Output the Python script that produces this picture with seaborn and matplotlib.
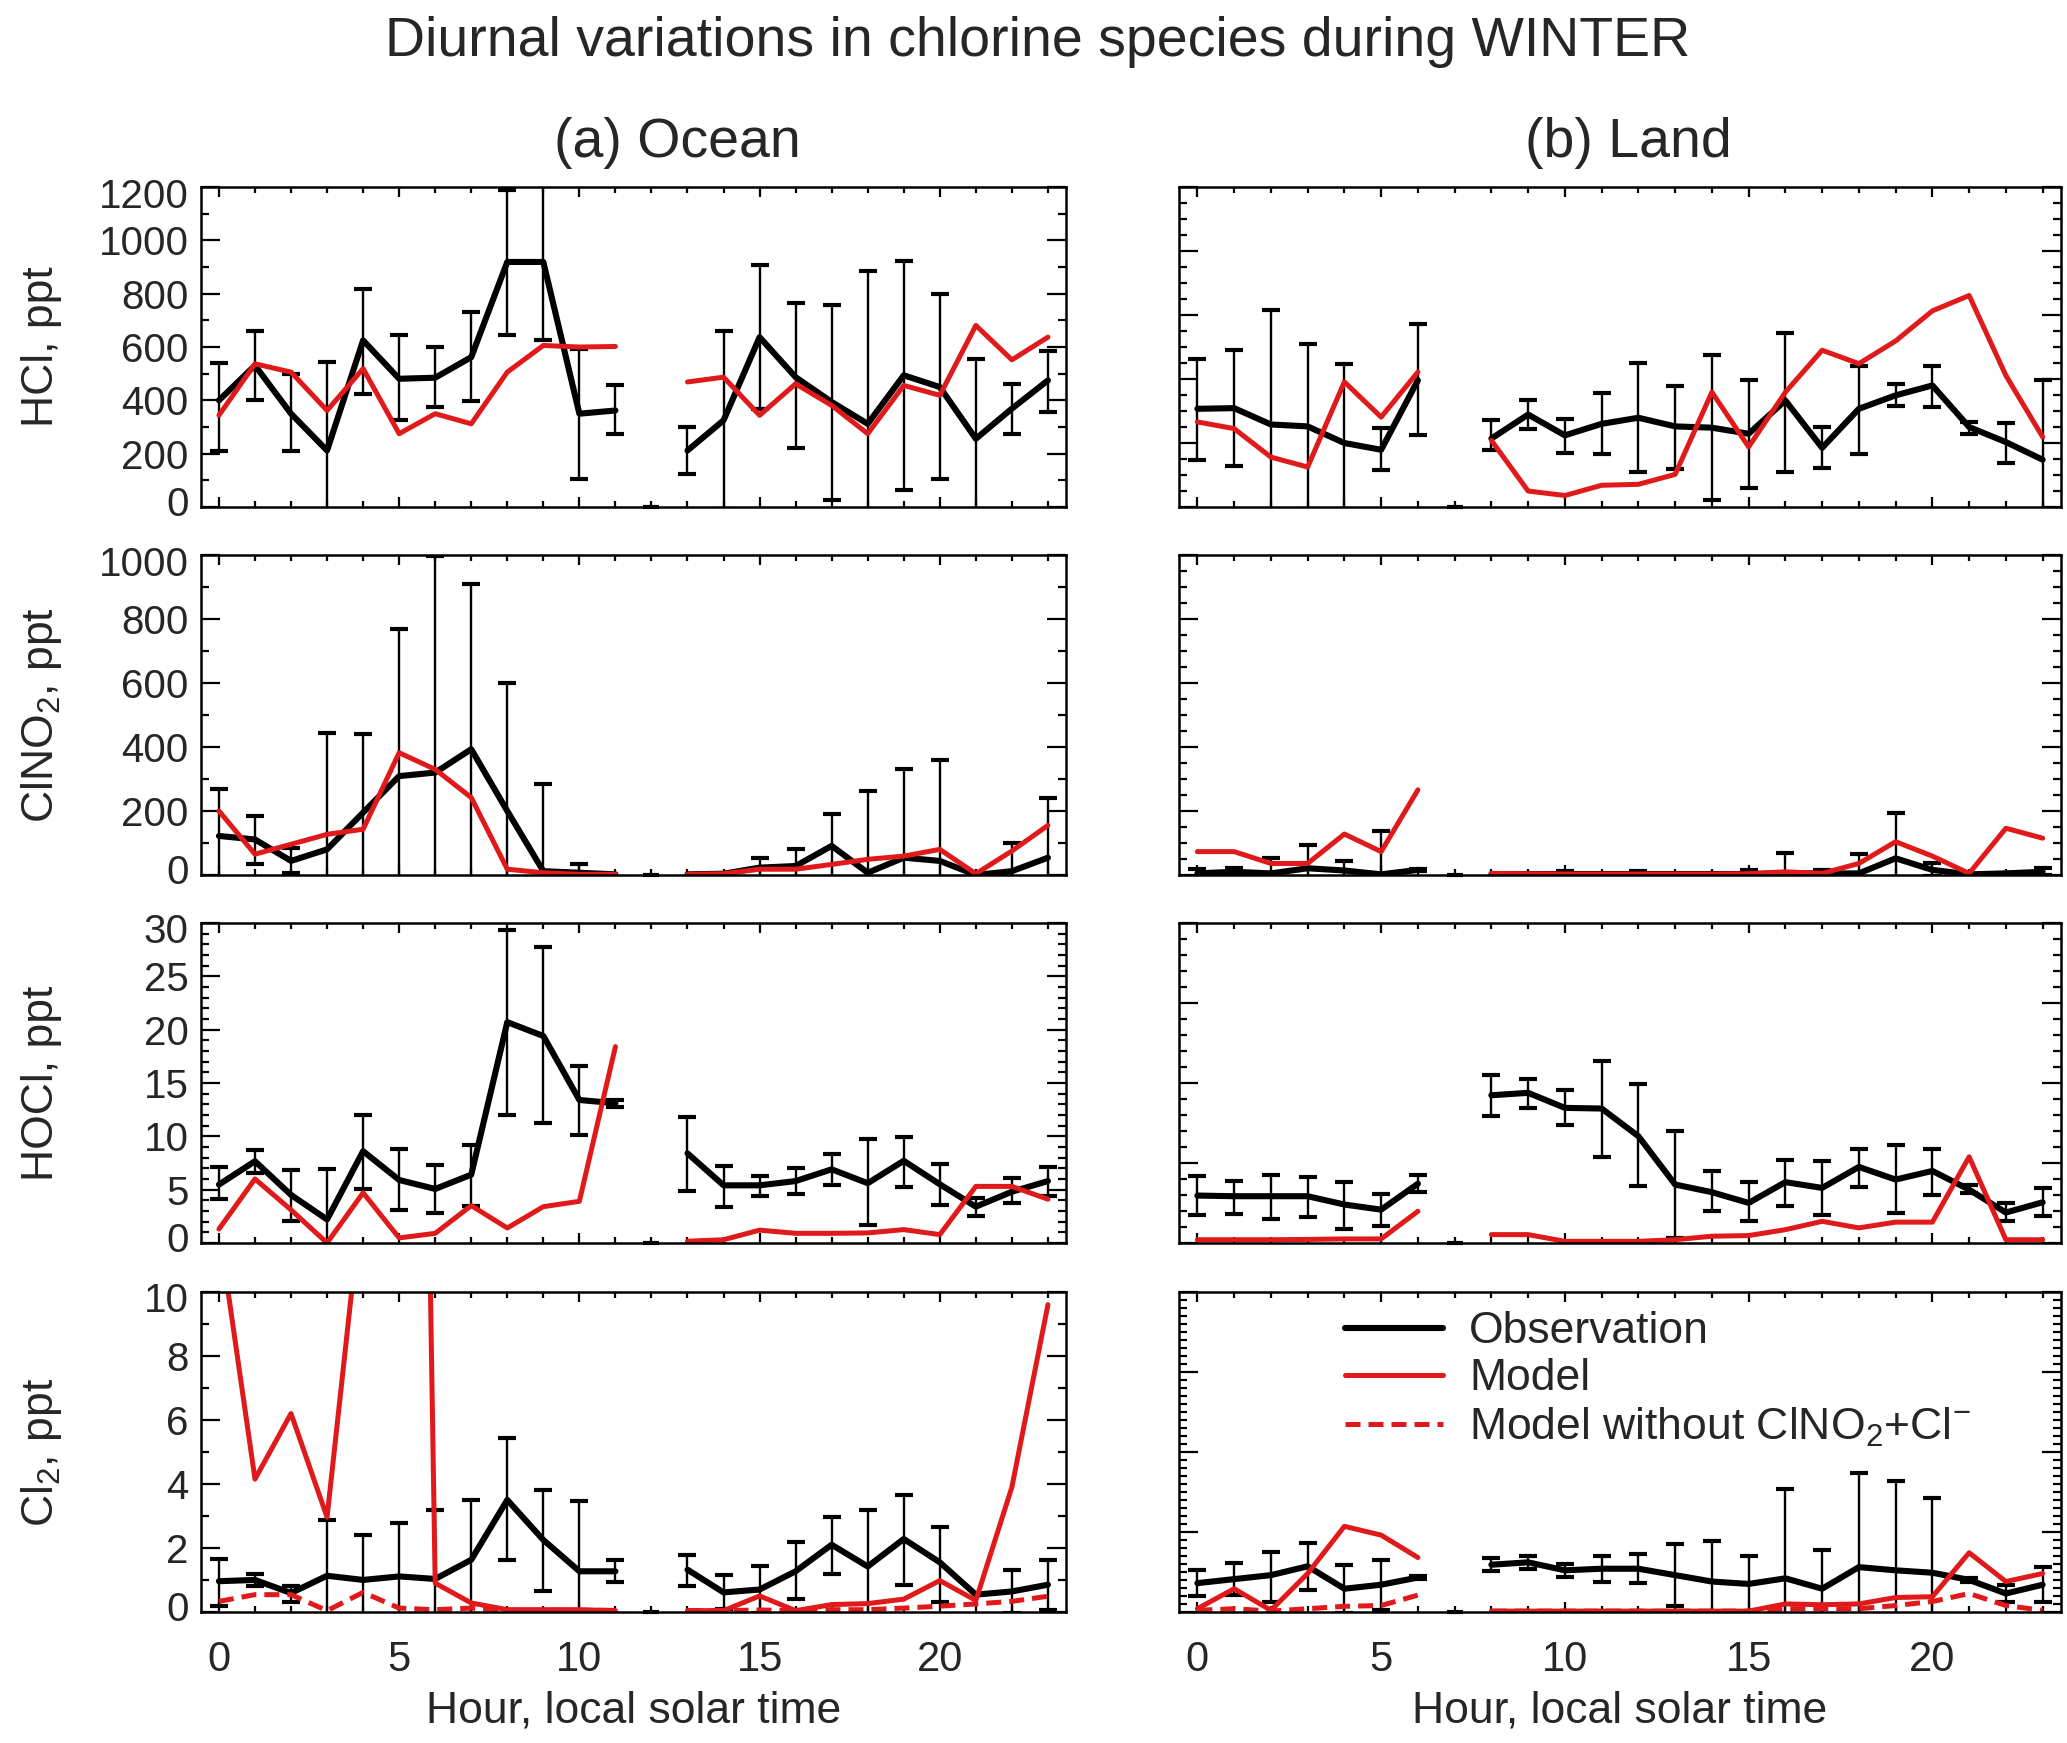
import numpy as np
import pandas as pd
import matplotlib
matplotlib.use("Agg")
import matplotlib.pyplot as plt
import matplotlib.transforms as mtransforms
from matplotlib.ticker import MultipleLocator
from matplotlib.lines import Line2D
import seaborn as sns

# ---- data (hour 0..23, nan = no data) ----
nan = np.nan
hours = np.arange(24)

# HCl, ocean
hcl_ocean_obs = [400, 531, 350, 212, 625, 481, 485, 562, 919, 919, 350, 362, nan,
                 212, 325, 637, 487, 394, 312, 494, 450, 256, 369, 475]
hcl_ocean_lo = [212, 400, 212, -120, 425, 325, 375, 396, 646, 628, 106, 275, nan,
                125, -9, 368, 221, 25, -261, 65, 106, -44, 275, 356]
hcl_ocean_hi = [541, 659, 497, 544, 819, 644, 600, 731, 1187, 1210, 594, 456, nan,
                300, 659, 906, 766, 756, 885, 922, 800, 556, 462, 584]
hcl_ocean_model = [344, 537, 506, 362, 519, 275, 350, 312, 506, 606, 600, 602, nan,
                   469, 487, 344, 462, 381, 275, 456, 419, 681, 552, 637]

# HCl, land
hcl_land_obs = [307, 309, 258, 252, 200, 179, 396, nan, 214, 289, 224, 260,
                279, 252, 248, 229, 333, 185, 307, 349, 380, 250, 203, 148]
hcl_land_lo = [146, 127, -101, -6, -48, 115, 226, nan, 179, 245, 170, 165,
               109, 120, 21, 60, 109, 122, 167, 316, 313, 229, 139, -100]
hcl_land_hi = [464, 490, 617, 510, 448, 247, 571, nan, 273, 333, 276, 357,
               450, 377, 474, 398, 545, 250, 440, 385, 440, 266, 263, 396]
hcl_land_model = [266, 245, 156, 125, 391, 281, 422, nan, 208, 50, 36, 68,
                  71, 102, 359, 188, 359, 490, 448, 519, 613, 661, 411, 219]

# ClNO2, ocean
clno2_ocean_obs = [122, 111, 44, 80, 195, 309, 320, 393, 200, 12, 7, 2, nan,
                   2, 4, 23, 28, 91, 7, 54, 44, 0, 12, 54]
clno2_ocean_lo = [-26, 33, 7, -285, -50, -150, -357, -124, -201, -261, -19, nan, nan,
                  nan, nan, -8, -24, -8, -248, -224, -270, nan, -75, -134]
clno2_ocean_hi = [270, 184, 85, 445, 440, 768, 997, 910, 601, 285, 33, nan, nan,
                  nan, nan, 54, 80, 190, 262, 332, 358, nan, 99, 242]
clno2_ocean_model = [200, 65, 96, 127, 143, 382, 330, 242, 18, 7, 2, 2, nan,
                     2, 4, 18, 18, 33, 49, 59, 80, 4, 75, 155]

# ClNO2, land
clno2_land_obs = [5, 10, 5, 21, 14, 2, 16, nan, 3, 3, 3, 3,
                  3, 3, 3, 3, 5, 5, 5, 52, 16, 2, 5, 10]
clno2_land_lo = [-8, -1, -44, -52, -17, -133, 14, nan, nan, nan, -6, nan,
                 -6, nan, nan, -10, -58, -6, -56, -89, -4, nan, nan, -1]
clno2_land_hi = [18, 21, 54, 94, 45, 137, 18, nan, nan, nan, 12, nan,
                 12, nan, nan, 16, 68, 16, 66, 193, 36, nan, nan, 21]
clno2_land_model = [73, 73, 36, 36, 128, 73, 266, nan, 5, 4, 3, 3,
                    3, 3, 3, 4, 10, 5, 36, 104, 59, 5, 146, 115]

# HOCl, ocean
hocl_ocean_obs = [5.47, 7.66, 4.5, 2.2, 8.6, 5.9, 5.06, 6.4, 20.7, 19.4, 13.4, 13.1, nan,
                  8.4, 5.4, 5.4, 5.8, 6.9, 5.6, 7.7, 5.5, 3.4, 4.8, 5.8]
hocl_ocean_lo = [4.1, 6.56, 2.1, -2.5, 5.1, 3.1, 2.8, 3.5, 12.0, 11.2, 10.1, 12.7, nan,
                 4.9, 3.4, 4.4, 4.6, 5.4, 1.7, 5.2, 3.6, 2.5, 3.75, 4.4]
hocl_ocean_hi = [7.1, 8.75, 6.8, 6.9, 12.0, 8.8, 7.3, 9.2, 29.3, 27.75, 16.6, 13.4, nan,
                 11.8, 7.25, 6.3, 7.0, 8.3, 9.7, 9.9, 7.4, 4.2, 6.1, 7.1]
hocl_ocean_model = [1.3, 6.0, 3.1, 0.0, 4.7, 0.47, 0.9, 3.5, 1.4, 3.4, 3.9, 18.4, nan,
                    0.16, 0.3, 1.2, 0.9, 0.9, 0.94, 1.25, 0.78, 5.3, 5.3, 4.1]

# HOCl, land
hocl_land_obs = [2.96, 2.92, 2.92, 2.92, 2.4, 2.08, 3.7, nan, 9.23, 9.38, 8.44, 8.4,
                 6.67, 3.65, 3.17, 2.5, 3.8, 3.44, 4.75, 3.96, 4.5, 3.33, 1.9, 2.54]
hocl_land_lo = [1.77, 1.83, 1.5, 1.6, 0.88, 1.08, 3.19, nan, 7.96, 8.44, 7.4, 5.38,
                3.58, 0.3, 1.98, 1.35, 2.3, 1.77, 3.5, 1.88, 3.0, 3.1, 1.35, 1.7]
hocl_land_hi = [4.17, 3.9, 4.27, 4.1, 3.8, 3.08, 4.23, nan, 10.5, 10.27, 9.54, 11.4,
                9.96, 6.98, 4.48, 3.8, 5.2, 5.1, 5.88, 6.15, 5.88, 3.65, 2.5, 3.44]
hocl_land_model = [0.2, 0.2, 0.2, 0.22, 0.25, 0.25, 1.98, nan, 0.52, 0.52, 0.1, 0.1,
                   0.1, 0.2, 0.42, 0.46, 0.83, 1.35, 0.94, 1.3, 1.3, 5.38, 0.2, 0.2]

# Cl2, ocean
cl2_ocean_obs = [0.96, 1.0, 0.59, 1.13, 1.0, 1.11, 1.03, 1.63, 3.5, 2.25, 1.27, 1.27, nan,
                 1.32, 0.61, 0.7, 1.27, 2.1, 1.42, 2.28, 1.55, 0.54, 0.64, 0.85]
cl2_ocean_lo = [0.18, 0.82, 0.3, -0.62, -0.41, -0.55, -1.14, -0.24, 1.63, 0.64, -0.93, 0.92, nan,
                0.82, 0.08, -0.02, 0.4, 1.18, -0.35, 0.85, 0.3, nan, -0.04, 0.07]
cl2_ocean_hi = [1.65, 1.2, 0.82, 2.88, 2.41, 2.77, 3.2, 3.5, 5.42, 3.8, 3.47, 1.63, nan,
                1.79, 1.14, 1.42, 2.2, 2.98, 3.19, 3.66, 2.65, nan, 1.32, 1.63]
cl2_ocean_model = [12.0, 4.15, 6.2, 2.96, 13.3, 70.0, 0.9, 0.28, 0.07, 0.07, 0.07, 0.04, nan,
                   0.04, 0.04, 0.5, 0.04, 0.23, 0.26, 0.4, 0.98, 0.36, 3.9, 9.6]
cl2_ocean_model_nocl = [0.33, 0.54, 0.54, 0.04, 0.61, 0.12, 0.07, 0.12, 0.05, 0.05, 0.05, 0.05, nan,
                        0.04, 0.04, 0.06, 0.04, 0.07, 0.07, 0.12, 0.18, 0.25, 0.33, 0.49]

# Cl2, land
cl2_land_obs = [0.36, 0.41, 0.46, 0.57, 0.29, 0.34, 0.43, nan, 0.59, 0.62, 0.52, 0.54,
                0.54, 0.46, 0.38, 0.35, 0.42, 0.29, 0.56, 0.52, 0.49, 0.40, 0.23, 0.34]
cl2_land_lo = [0.2, 0.21, 0.12, 0.28, -0.01, 0.03, 0.41, nan, 0.51, 0.54, 0.44, 0.38,
               0.36, 0.07, -0.13, 0.0, -0.7, -0.19, -0.62, -0.6, -0.44, 0.37, 0.12, 0.12]
cl2_land_hi = [0.52, 0.61, 0.75, 0.86, 0.59, 0.65, 0.45, nan, 0.67, 0.70, 0.60, 0.70,
               0.72, 0.85, 0.89, 0.70, 1.54, 0.77, 1.74, 1.64, 1.42, 0.43, 0.34, 0.56]
cl2_land_model = [0.04, 0.29, 0.02, 0.48, 1.07, 0.96, 0.68, nan, 0.01, 0.01, 0.01, 0.01,
                  0.01, 0.01, 0.01, 0.01, 0.10, 0.09, 0.10, 0.18, 0.19, 0.74, 0.38, 0.48]
cl2_land_model_nocl = [0.02, 0.04, 0.01, 0.04, 0.07, 0.08, 0.21, nan, 0.01, 0.01, 0.01, 0.01,
                       0.01, 0.01, 0.01, 0.01, 0.04, 0.04, 0.04, 0.08, 0.13, 0.23, 0.08, 0.02]

row_labels = ["HCl, ppt", "ClNO$_2$, ppt", "HOCl, ppt", "Cl$_2$, ppt"]
legend_labels = ["Observation", "Model", "Model without ClNO$_2$+Cl$^{-}$"]

RED = "#e0191b"
LW_OBS = 4.4
LW_MOD = 3.6

# ---- style ----
sns.set_theme(style="ticks")
plt.rcParams["font.family"] = ["Liberation Sans", "DejaVu Sans"]
plt.rcParams["mathtext.default"] = "regular"

fig = plt.figure(figsize=(20.67, 17.43), dpi=100)

col_left = [0.0972, 0.5704]
col_width = [0.4185, 0.4267]
row_bottom = [0.7091, 0.4980, 0.2869, 0.0752]
row_height = 0.1836

# per-panel: (obs, lo, hi, model, model_nocl, ymax, major, minor)
panels = [
    [(hcl_ocean_obs, hcl_ocean_lo, hcl_ocean_hi, hcl_ocean_model, None, 1200, 200, 100),
     (hcl_land_obs, hcl_land_lo, hcl_land_hi, hcl_land_model, None, 1000, 200, 50)],
    [(clno2_ocean_obs, clno2_ocean_lo, clno2_ocean_hi, clno2_ocean_model, None, 1000, 200, 100),
     (clno2_land_obs, clno2_land_lo, clno2_land_hi, clno2_land_model, None, 1000, 200, 50)],
    [(hocl_ocean_obs, hocl_ocean_lo, hocl_ocean_hi, hocl_ocean_model, None, 30, 5, 1),
     (hocl_land_obs, hocl_land_lo, hocl_land_hi, hocl_land_model, None, 20, 5, 1)],
    [(cl2_ocean_obs, cl2_ocean_lo, cl2_ocean_hi, cl2_ocean_model, cl2_ocean_model_nocl, 10, 2, 1),
     (cl2_land_obs, cl2_land_lo, cl2_land_hi, cl2_land_model, cl2_land_model_nocl, 4, 1, 0.1)],
]


def draw_line(ax, values, color, lw, ls="-"):
    df = pd.DataFrame({"hour": hours, "value": np.asarray(values, dtype=float)})
    df["seg"] = df["value"].isna().cumsum()
    df = df.dropna()
    sns.lineplot(data=df, x="hour", y="value", units="seg", estimator=None,
                 color=color, linewidth=lw, linestyle=ls, ax=ax, legend=False)


for r in range(4):
    for c in range(2):
        obs, lo, hi, model, nocl, ymax, major, minor = panels[r][c]
        obs = np.asarray(obs, dtype=float)
        lo = np.asarray(lo, dtype=float)
        hi = np.asarray(hi, dtype=float)
        ax = fig.add_axes([col_left[c], row_bottom[r], col_width[c], row_height])

        ok = ~np.isnan(lo) & ~np.isnan(hi)
        ax.errorbar(hours[ok], obs[ok], yerr=[obs[ok] - lo[ok], hi[ok] - obs[ok]],
                    fmt="none", ecolor="black", elinewidth=1.7, capsize=6.5,
                    capthick=3.0, zorder=2)
        draw_line(ax, obs, "black", LW_OBS)
        if nocl is not None:
            draw_line(ax, nocl, RED, 3.6, ls=(0, (3, 1.6)))
        draw_line(ax, model, RED, LW_MOD)

        # short dash at the missing hour
        gap = hours[np.isnan(obs)]
        ax.plot(gap, np.zeros(len(gap)), marker="_", ms=12, mew=3, color="black",
                linestyle="none", clip_on=False, zorder=5)

        ax.set_xlim(-0.5, 23.5)
        ax.set_ylim(0, ymax)
        ax.set_xticks(np.arange(0, 24, 5))
        ax.xaxis.set_minor_locator(MultipleLocator(1))
        ax.set_yticks(np.arange(0, ymax + major / 2, major))
        ax.yaxis.set_minor_locator(MultipleLocator(minor))
        ax.tick_params(which="both", direction="in", top=True, right=True,
                       width=1.6, color="black")
        ax.tick_params(axis="x", which="major", length=7, pad=20, labelsize=30)
        ax.tick_params(axis="x", which="minor", length=4)
        ax.tick_params(axis="y", which="major", length=14, pad=9, labelsize=29)
        ax.tick_params(axis="y", which="minor", length=6)
        for s in ax.spines.values():
            s.set_linewidth(1.8)
            s.set_color("black")
        ax.set_xlabel("")
        ax.set_ylabel("")

        if r < 3:
            ax.tick_params(axis="x", labelbottom=False)
        else:
            ax.set_xlabel("Hour, local solar time", fontsize=32, labelpad=8)
        if c == 1:
            ax.tick_params(axis="y", labelleft=False)
        else:
            # end labels pulled a little inside the axis range
            yt = ax.yaxis.get_major_ticks()
            shift = 4 / 72
            for t, dy in ((yt[0], shift), (yt[-1], -shift)):
                off = mtransforms.ScaledTranslation(0, dy, fig.dpi_scale_trans)
                t.label1.set_transform(t.label1.get_transform() + off)

        if r == 3 and c == 1:
            handles = [Line2D([], [], color="black", lw=LW_OBS),
                       Line2D([], [], color=RED, lw=LW_MOD),
                       Line2D([], [], color=RED, lw=3.6, ls=(0, (3, 1.6)))]
            ax.legend(handles, legend_labels, loc="upper left",
                      bbox_to_anchor=(0.188, 0.94), frameon=False, fontsize=32,
                      handlelength=2.2, handletextpad=0.6, labelspacing=0.14,
                      borderpad=0, borderaxespad=0)

    fig.text(0.02, row_bottom[r] + row_height / 2, row_labels[r], rotation=90,
             ha="center", va="center", fontsize=32)

fig.text(0.502, 0.976, "Diurnal variations in chlorine species during WINTER",
         ha="center", va="center", fontsize=40)
fig.text(0.3275, 0.918, "(a) Ocean", ha="center", va="center", fontsize=40)
fig.text(0.788, 0.918, "(b) Land", ha="center", va="center", fontsize=40)

fig.savefig("out.png", dpi=100)
